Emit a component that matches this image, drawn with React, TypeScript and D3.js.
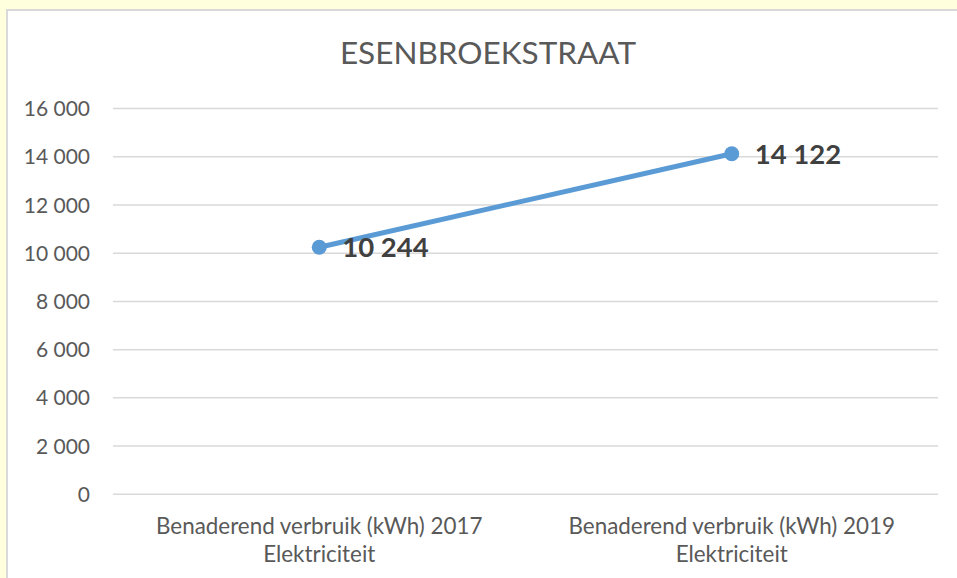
import React from "react";
import { scaleLinear, scaleBand, line } from "d3";

const categories = [
  ["Benaderend verbruik (kWh) 2017", "Elektriciteit"],
  ["Benaderend verbruik (kWh) 2019", "Elektriciteit"],
];
const values = [10244, 14122];
const yTicks = [0, 2000, 4000, 6000, 8000, 10000, 12000, 14000, 16000];
const title = "ESENBROEKSTRAAT";

const fmt = (v: number) =>
  String(v).replace(/\B(?=(\d{3})+(?!\d))/g, " ");

const App = () => {
  const width = 957;
  const height = 578;
  const left = 113;
  const right = 938;
  const top = 108.5;
  const bottom = 494.3;
  const font = "Lato, 'Open Sans', sans-serif";

  const xScale = scaleBand<number>()
    .domain(values.map((_, i) => i))
    .range([left, right]);

  const yScale = scaleLinear().domain([0, 16000]).range([bottom, top]);

  const cx = (i: number) => xScale(i)! + xScale.bandwidth() / 2;

  const path = line<number>()
    .x((_, i) => cx(i))
    .y((d) => yScale(d))(values);

  return (
    <svg
      width={width}
      height={height}
      viewBox={`0 0 ${width} ${height}`}
      style={{ position: "fixed", left: 0, top: 0 }}
    >
      <rect x={0} y={0} width={width} height={height} fill="#ffffdd" />
      <rect
        x={7}
        y={10}
        width={width + 20}
        height={height + 20}
        fill="#fff"
        stroke="#d9d9d9"
        strokeWidth={2}
      />
      <text
        x={488}
        y={64}
        textAnchor="middle"
        fontFamily={font}
        fontSize={31.5}
        fill="#595959"
      >
        {title}
      </text>

      {yTicks.map((t) => (
        <g key={t}>
          <line
            x1={left}
            x2={right}
            y1={yScale(t)}
            y2={yScale(t)}
            stroke="#d9d9d9"
            strokeWidth={1.5}
          />
          <text
            x={90}
            y={yScale(t)}
            dy="0.36em"
            textAnchor="end"
            fontFamily={font}
            fontSize={21}
            fill="#595959"
          >
            {fmt(t)}
          </text>
        </g>
      ))}

      {categories.map((c, i) => (
        <text
          key={i}
          x={cx(i)}
          textAnchor="middle"
          fontFamily={font}
          fontSize={22.4}
          fill="#595959"
        >
          <tspan x={cx(i)} y={534}>{c[0]}</tspan>
          <tspan x={cx(i)} y={562}>{c[1]}</tspan>
        </text>
      ))}

      <path d={path || ""} fill="none" stroke="#5b9bd5" strokeWidth={5} strokeLinecap="round" />
      {values.map((v, i) => (
        <circle key={i} cx={cx(i)} cy={yScale(v)} r={7.5} fill="#5b9bd5" />
      ))}
      {values.map((v, i) => (
        <text
          key={i}
          x={cx(i) + 23}
          y={yScale(v)}
          dy="0.36em"
          fontFamily={font}
          fontSize={27.5}
          fontWeight="bold"
          fill="#404040"
        >
          {fmt(v)}
        </text>
      ))}
    </svg>
  );
};

export default App;
